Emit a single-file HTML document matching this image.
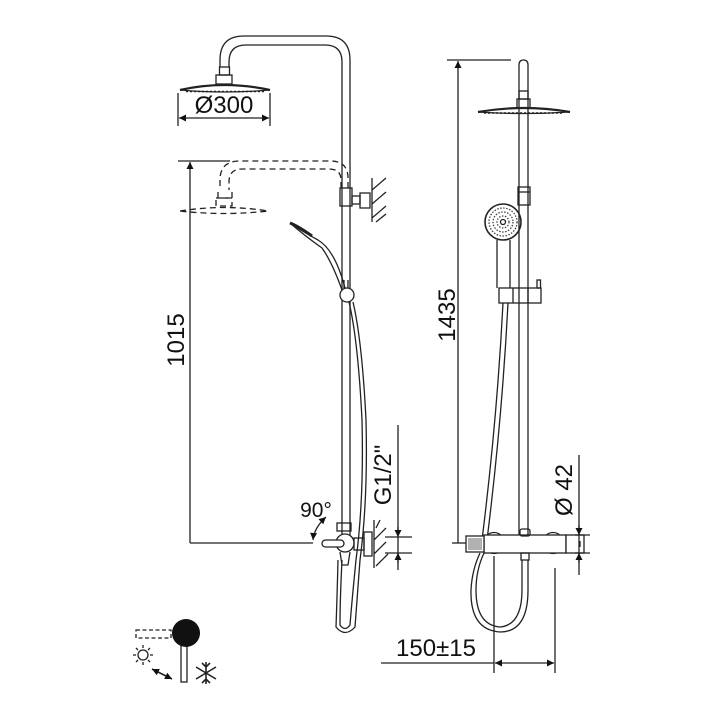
<!DOCTYPE html>
<html><head><meta charset="utf-8"><style>html,body{margin:0;padding:0;background:#fff}svg{display:block}</style></head>
<body>
<svg width="716" height="716" viewBox="0 0 716 716" xmlns="http://www.w3.org/2000/svg" font-family="'Liberation Sans', sans-serif">
<defs>
<marker id="a" viewBox="0 0 10 10" refX="10" refY="5" markerWidth="10" markerHeight="7" orient="auto-start-reverse" markerUnits="userSpaceOnUse"><path d="M0,0 L10,5 L0,10z" fill="#111"/></marker>
</defs>
<g fill="none" stroke="#222" stroke-width="1.3">
<!-- LEFT VIEW: top arm -->
<path d="M350,540 V60 Q350,36 326,36 H244 Q220,36 220,60 V67"/>
<path d="M342,540 V62 Q342,45 325,45 H246 Q229,45 229,62 V67"/>
<rect x="219.5" y="67" width="10" height="8"/>
<rect x="216" y="75" width="16" height="9"/>
<path d="M180,90 Q224,80 270,90" stroke-width="2.2"/>
<path d="M180,90 Q224,94 270,90"/>
<path d="M186,91.5 H264" stroke-dasharray="2,2" stroke-width="1.6"/>
<!-- dim 300 -->
<path d="M178,93 V126 M270,93 V126"/>
<path d="M179,118 H269" marker-start="url(#a)" marker-end="url(#a)"/>
<!-- dashed lower -->
<g stroke-dasharray="6,4">
<path d="M348,188 V178 Q348,161 330,161 H240 Q220,161 220,180 V190"/>
<path d="M341,188 V180 Q341,169 329,169 H242 Q229,169 229,182 V190"/>
<path d="M218,192 V198 H232 V192"/>
<rect x="216" y="198" width="16" height="8"/>
<path d="M180,211 Q224,204 268,211 Q224,216 180,211z"/>
</g>
<!-- 1015 dim -->
<path d="M178,161 H230"/>
<path d="M190,162 V543" marker-start="url(#a)"/>
<path d="M190,543 H313"/>
<!-- bracket -->
<rect x="340" y="188" width="12" height="18"/>
<rect x="352" y="196" width="8" height="8"/>
<rect x="360" y="193" width="10" height="15"/>
<path d="M372,178 V222"/>
<path d="M372,190 L386,178 M372,204 L386,192 M372,218 L386,206 M376,222 L386,214"/>
<!-- handshower left -->
<path d="M290,223 Q300,230 318,240 Q335,250 345,288"/>
<path d="M290,223 Q305,236 322,248 Q332,262 342,290"/>
<path d="M290,223 Q298,226 312,236" stroke-width="3"/>
<path d="M344,280 V288 M348,280 V288"/>
<circle cx="347" cy="295" r="7" fill="#fff"/>
<path d="M349,302 Q358,340 362,420 Q364,500 356,560 Q352,600 350,625 Q345,632 340,625 Q340,600 342,560"/>
<path d="M353,302 Q362,340 366,420 Q368,500 360,560 Q357,600 355,627 Q345,638 336,627 Q337,600 338,560"/>
<!-- valve left -->
<rect x="337" y="523" width="14" height="8"/>
<circle cx="345" cy="543" r="9" fill="#fff"/>
<rect x="322" y="540" width="22" height="7" rx="3.5" fill="#fff"/>
<rect x="354" y="538" width="10" height="12"/>
<rect x="364" y="532" width="8" height="24"/>
<path d="M340,552 L342,565 H348 L350,552"/>
<path d="M374,520 V568 M374,540 L386,528 M374,554 L386,542 M376,566 L388,554 M380,520 L376,528"/>
<path d="M313,540 Q314,528 326,517" marker-start="url(#a)" marker-end="url(#a)"/>
<!-- G1/2 dim -->
<path d="M398,425 V570"/>
<path d="M385,537 H412 M385,553 H412"/>
<path d="M398,527 V537" marker-end="url(#a)"/>
<path d="M398,563 V553" marker-end="url(#a)"/>

<!-- RIGHT VIEW -->
<path d="M519,535 V65 Q519,60 523.5,60 Q528,60 528,65 V535"/>
<rect x="519" y="91" width="9" height="8"/>
<rect x="517" y="99" width="13" height="9"/>
<path d="M478,112 Q524,104 570,112" stroke-width="2.2"/>
<path d="M478,112 Q524,115 570,112"/>
<path d="M484,113 H564" stroke-dasharray="2,2" stroke-width="1.6"/>
<rect x="518" y="187" width="12" height="18"/>
<path d="M518,192 H530"/>
<!-- 1435 dim -->
<path d="M447,60 H511"/>
<path d="M458,61 V543" marker-start="url(#a)"/>
<path d="M452,543 H466"/>
<!-- handshower right -->
<circle cx="503" cy="222" r="18" stroke-width="1.6"/>
<circle cx="503" cy="222" r="14" stroke="#444" stroke-dasharray="1.5,1.5"/>
<circle cx="503" cy="222" r="10" stroke="#444" stroke-dasharray="1.5,1.5"/>
<circle cx="503" cy="222" r="6" stroke="#444" stroke-dasharray="1.5,1.5"/>
<circle cx="503" cy="222" r="2.5"/>
<path d="M497,240 V288 M510,240 V288"/>
<rect x="499" y="288" width="42" height="15"/>
<path d="M513,288 V303 M528,288 V303"/>
<rect x="537" y="280" width="3.5" height="8"/>
<path d="M503,303 Q497,420 482,540"/>
<path d="M508,303 Q502,420 487,540"/>
<!-- valve right -->
<circle cx="494" cy="543" r="10.5"/><circle cx="553" cy="543" r="10.5"/>
<rect x="484" y="535" width="82" height="18" fill="#fff"/>
<rect x="566" y="535" width="18" height="18" fill="#fff"/>
<path d="M580,541 V547"/>
<rect x="466" y="536" width="18" height="16" fill="#fff"/>
<path d="M469,538 V550 M471,538 V550 M473,538 V550 M475,538 V550 M477,538 V550 M479,538 V550 M481,538 V550" stroke-width="0.7"/>
<rect x="520" y="529" width="10" height="7" rx="2"/>
<rect x="521" y="553" width="8" height="7"/>
<path d="M522,560 V590 Q522,625 500,627 Q476,625 476,590 Q476,570 484,553"/>
<path d="M528,560 V590 Q528,632 500,632 Q470,630 471,590 Q472,570 480,553"/>
<!-- Ø42 dim -->
<path d="M579,455 V575"/>
<path d="M575,535 H590 M575,553 H590"/>
<path d="M579,525 V535" marker-end="url(#a)"/>
<path d="M579,563 V553" marker-end="url(#a)"/>
<!-- 150 dim -->
<path d="M494,556 V673 M555,568 V673"/>
<path d="M381,663 H494"/>
<path d="M495,663 H554" marker-start="url(#a)" marker-end="url(#a)"/>
<!-- icon -->
<rect x="136" y="630" width="35" height="8" stroke-dasharray="4,2.5"/>
<rect x="181" y="645" width="6" height="37"/>
<circle cx="143" cy="655" r="5"/>
<path d="M143,645 V648 M143,662 V665 M133,655 H136 M150,655 H153 M136,648 L138,650 M148,660 L150,662 M150,648 L148,650 M138,660 L136,662"/>
<path d="M152,669 L172,679" marker-start="url(#a)" marker-end="url(#a)" stroke-width="1.6"/>
<path d="M206,662 V684 M196,667 L216,679 M216,667 L196,679 M202,663 L206,667 L210,663 M202,683 L206,679 L210,683" stroke-width="1.6"/>
</g>
<circle cx="186" cy="633" r="14" fill="#111"/>
<g fill="#111" font-size="24">
<text x="224" y="113" text-anchor="middle">Ø300</text>
<text transform="translate(184,340) rotate(-90)" text-anchor="middle">1015</text>
<text transform="translate(455,315) rotate(-90)" text-anchor="middle">1435</text>
<text transform="translate(391,475) rotate(-90)" text-anchor="middle">G1/2"</text>
<text transform="translate(572,490) rotate(-90)" text-anchor="middle">Ø 42</text>
<text x="316" y="517" text-anchor="middle" font-size="21">90°</text>
<text x="436" y="656" text-anchor="middle">150±15</text>
</g>
</svg>
</body></html>
